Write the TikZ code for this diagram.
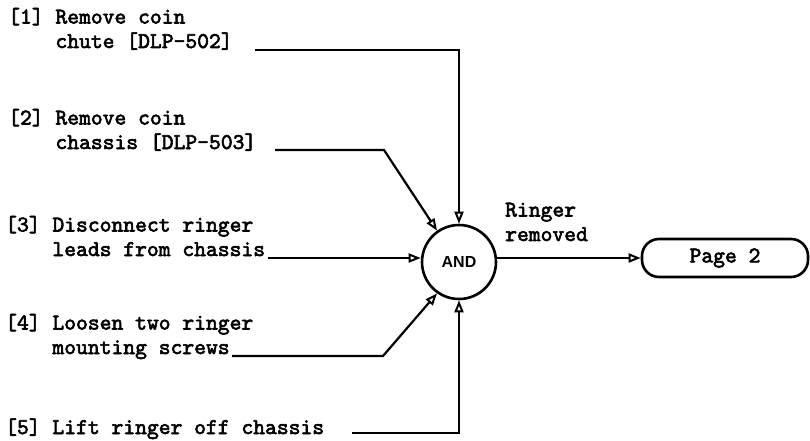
\documentclass[tikz,border=0pt]{standalone}
\usepackage{fontspec}
\setsansfont{Liberation Sans}
\newfontfamily\twfont[FakeBold=2.6]{lmmono10-regular.otf}
\usetikzlibrary{arrows.meta}
\begin{document}
\begin{tikzpicture}[x=1pt,y=-1pt,
  lbl/.style={anchor=base west, inner sep=0pt, align=left,
    font=\twfont\fontsize{22.5}{24.5}\selectfont},
  conn/.style={line width=2.2pt, -{Triangle[open,length=12pt,width=9pt,line width=2pt]}},
  gate/.style={circle, draw, line width=2.6pt, minimum size=74pt, inner sep=0pt,
    font=\sffamily\bfseries\fontsize{16}{18}\selectfont},
  term/.style={draw, line width=2.6pt, rounded corners=17pt, minimum width=166pt,
    minimum height=38pt, inner sep=0pt, font=\twfont\fontsize{22.5}{24.5}\selectfont}]
\useasboundingbox (0,0) rectangle (810,441);

\node[lbl] (t1) at (8,48) {[1] Remove coin\\\phantom{[1] }chute [DLP-502]};
\node[lbl] (t2) at (8,149) {[2] Remove coin\\\phantom{[2] }chassis [DLP-503]};
\node[lbl] (t3) at (5,256) {[3] Disconnect ringer\\\phantom{[3] }leads from chassis};
\node[lbl] (t4) at (5,354) {[4] Loosen two ringer\\\phantom{[4] }mounting screws};
\node[lbl] (t5) at (5,434) {[5] Lift ringer off chassis};

\node[gate] (and) at (459,262) {AND};
\node[term] (p2) at (725,258) {Page 2};
\node[lbl] (rr) at (505,241) {Ringer\\removed};

\coordinate (s1) at (255,50);
\coordinate (s2) at (275,150);
\coordinate (s3) at (268,258);
\coordinate (s4) at (232,356);
\coordinate (s5) at (352,433);

\draw[conn] (s1) -- (459,50) -- (and.north);
\draw[conn] (s2) -- (384,150) -- (and.125);
\draw[conn] (s3) -- (and.west |- s3);
\draw[conn] (s4) -- (383,356) -- (and.235);
\draw[conn] (s5) -- (459,433) -- (and.south);
\draw[conn] (and.east |- p2.west) -- (p2.west);
\end{tikzpicture}
\end{document}
